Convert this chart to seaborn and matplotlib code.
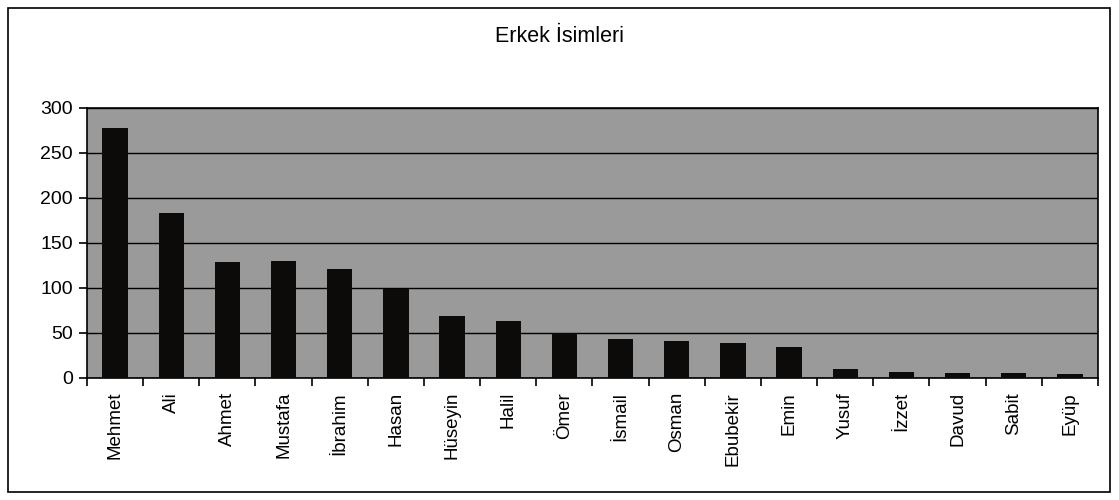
import matplotlib
matplotlib.use("Agg")
import matplotlib.pyplot as plt
import matplotlib.ticker as mticker
import seaborn as sns
import pandas as pd
from matplotlib.patches import Rectangle

# Veriler
isimler = ["Mehmet", "Ali", "Ahmet", "Mustafa", "İbrahim", "Hasan", "Hüseyin",
           "Halil", "Ömer", "İsmail", "Osman", "Ebubekir", "Emin", "Yusuf",
           "İzzet", "Davud", "Sabit", "Eyüp"]
sayilar = [278, 183, 129, 130, 121, 99, 69, 63, 50, 43, 41, 39, 34, 10, 7, 5, 5, 4]
y_ticks = [0, 50, 100, 150, 200, 250, 300]

df = pd.DataFrame({"isim": isimler, "sayi": sayilar})

sns.set_style("white")
plt.rcParams["font.family"] = ["Liberation Sans", "DejaVu Sans"]
plt.rcParams["text.color"] = "black"
plt.rcParams["xtick.color"] = "black"
plt.rcParams["ytick.color"] = "black"

fig = plt.figure(figsize=(11.19, 5.0), dpi=100)
ax = fig.add_axes([0.0777, 0.244, 0.9035, 0.5406])

sns.barplot(data=df, x="isim", y="sayi", color="#0d0a0a", saturation=1,
            width=0.45, ax=ax, zorder=3, edgecolor="#0d0a0a", linewidth=0)

ax.set_facecolor("#9a9a9a")
ax.set_ylim(0, 300)
ax.set_xlim(-0.5, len(isimler) - 0.5)
ax.set_yticks(y_ticks)
ax.yaxis.grid(True, color="black", linewidth=1.0, zorder=1)
ax.set_axisbelow(True)
ax.set_xlabel("")
ax.set_ylabel("")

# Excel tarzı: etiketler ortada, çentikler kategori sınırlarında
ax.xaxis.set_minor_locator(mticker.FixedLocator(
    [i - 0.5 for i in range(len(isimler) + 1)]))
ax.tick_params(axis="x", which="major", length=0, pad=10, labelsize=13.5,
               rotation=90, labelcolor="black")
ax.tick_params(axis="x", which="minor", length=6, width=1.2, color="black",
               direction="out", bottom=True)
ax.tick_params(axis="y", which="major", length=6, width=1.2, color="black",
               direction="out", left=True, labelsize=14, pad=4,
               labelcolor="black")

for s in ax.spines.values():
    s.set_color("black")
    s.set_linewidth(1.2)

fig.text(0.5, 0.926, "Erkek İsimleri", ha="center", va="center",
         fontsize=15.5, color="black")

# Dış çerçeve
fig.patches.append(Rectangle((0.007, 0.016), 0.985, 0.968,
                             transform=fig.transFigure, fill=False,
                             edgecolor="black", linewidth=1.2))

fig.savefig("out.png", dpi=100)
